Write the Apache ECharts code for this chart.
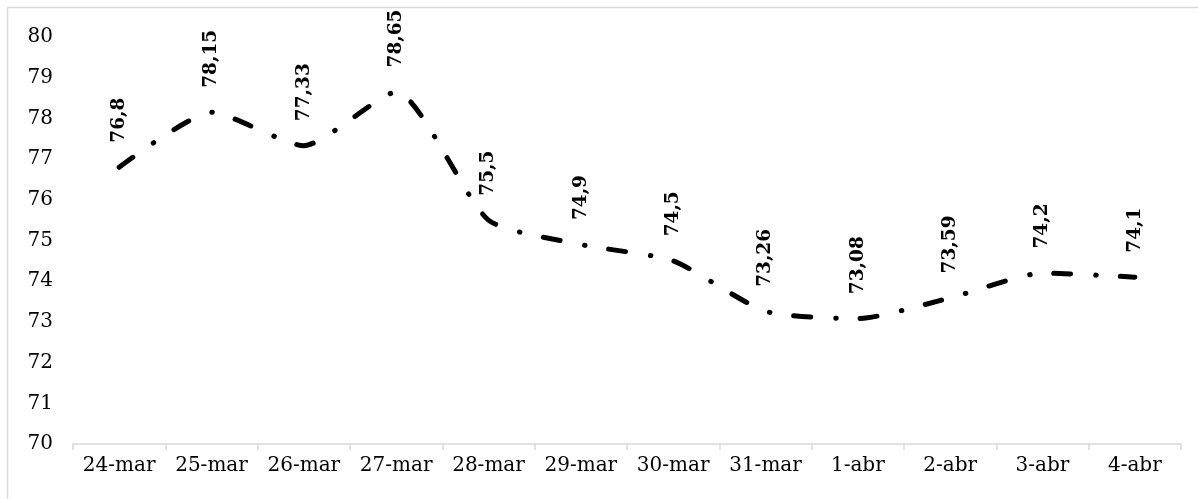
<!DOCTYPE html>
<html>
<head>
<meta charset="utf-8">
<script src="https://cdn.jsdelivr.net/npm/echarts@6/dist/echarts.min.js"></script>
<style>html,body{margin:0;padding:0;background:#fff}#c{width:1198px;height:499px}</style>
</head>
<body>
<div id="c"></div>
<script>
const categories = ['24-mar','25-mar','26-mar','27-mar','28-mar','29-mar','30-mar','31-mar','1-abr','2-abr','3-abr','4-abr'];
const values = [76.8, 78.15, 77.33, 78.65, 75.5, 74.9, 74.5, 73.26, 73.08, 73.59, 74.2, 74.1];
const yTicks = {min: 70, max: 80, interval: 1};

const chart = echarts.init(document.getElementById('c'), null, {renderer: 'canvas'});
chart.setOption({
  animation: false,
  backgroundColor: '#fff',
  graphic: [{
    type: 'rect', shape: {x: 7.5, y: 7.5, width: 1200, height: 500},
    style: {fill: 'none', stroke: '#d9d9d9', lineWidth: 1.5}, silent: true, z: -1
  }],
  grid: {left: 73, right: 17, top: 37, bottom: 55},
  xAxis: {
    type: 'category', data: categories, boundaryGap: true,
    axisLine: {lineStyle: {color: '#d9d9d9', width: 1.5}},
    axisTick: {show: true, interval: 0, length: 6, lineStyle: {color: '#d9d9d9', width: 1.5}},
    axisLabel: {interval: 0, color: '#000', fontFamily: 'DejaVu Serif', fontSize: 20, margin: 12}
  },
  yAxis: {
    type: 'value', min: yTicks.min, max: yTicks.max, interval: yTicks.interval,
    axisLine: {show: false}, axisTick: {show: false}, splitLine: {show: false},
    axisLabel: {color: '#000', fontFamily: 'DejaVu Serif', fontSize: 20, margin: 20}
  },
  series: [{
    type: 'line', data: values, smooth: 0.2,
    symbol: 'circle', symbolSize: 1, showSymbol: true,
    itemStyle: {color: 'rgba(0,0,0,0)'},
    lineStyle: {color: '#000', width: 5, type: [17, 25, 0.5, 24], cap: 'round', join: 'round'},
    labelLayout: {hideOverlap: false},
    label: {
      show: true, position: 'top', rotate: 90, distance: 24, offset: [2, 0],
      align: 'left', verticalAlign: 'middle',
      color: '#000', fontFamily: 'DejaVu Serif', fontWeight: 'bold', fontSize: 18.5,
      formatter: p => String(p.value).replace('.', ',')
    }
  }]
});
</script>
</body>
</html>
